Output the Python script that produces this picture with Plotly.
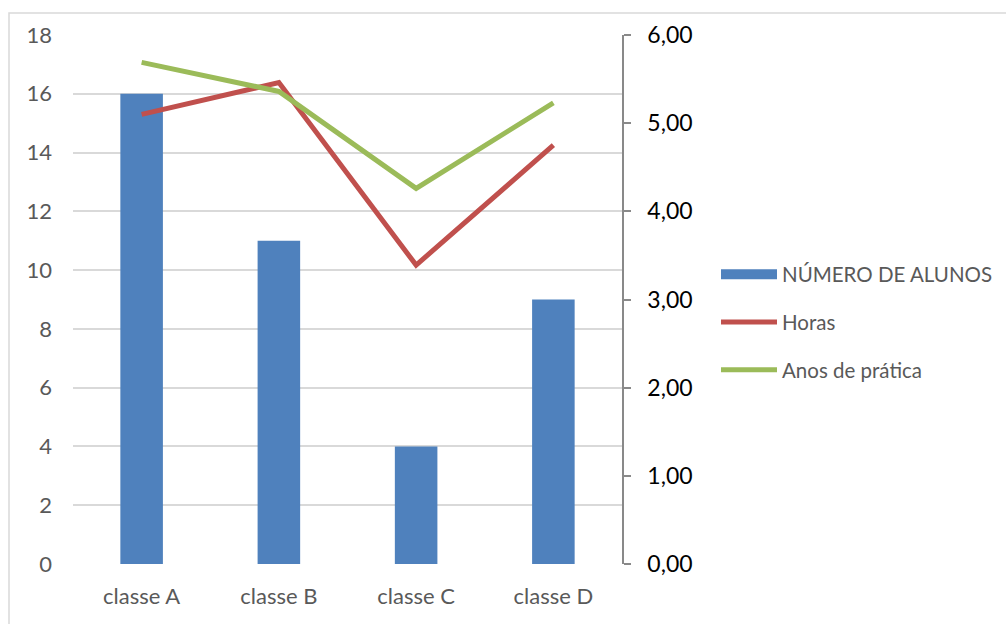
import plotly.graph_objects as go

categories = ["classe A", "classe B", "classe C", "classe D"]
alunos = [16, 11, 4, 9]
horas = [5.10, 5.46, 3.39, 4.75]
anos_pratica = [5.69, 5.36, 4.26, 5.23]

left_ticks = list(range(0, 19, 2))
right_ticks = [0, 1, 2, 3, 4, 5, 6]

FONT = "Lato"
GRAY = "#595959"
BLUE, RED, GREEN = "#4F81BD", "#C0504D", "#9BBB59"

fig = go.Figure()
fig.add_trace(go.Bar(
    x=categories, y=alunos, name="NÚMERO DE ALUNOS",
    marker=dict(color=BLUE, line=dict(width=0)),
    legendgroup="a", showlegend=False, yaxis="y"))
# legend entry for the bars, drawn as a wide rectangle like the original
fig.add_trace(go.Scatter(
    x=[None], y=[None], name="NÚMERO DE ALUNOS", mode="lines",
    line=dict(color=BLUE, width=14), legendgroup="a", yaxis="y"))
fig.add_trace(go.Scatter(
    x=categories, y=horas, name="Horas", mode="lines",
    line=dict(color=RED, width=5), legendgroup="b", yaxis="y2"))
fig.add_trace(go.Scatter(
    x=categories, y=anos_pratica, name="Anos de prática", mode="lines",
    line=dict(color=GREEN, width=5), legendgroup="c", yaxis="y2"))

L, R, T, B = 73, 384, 35, 60
W, H = 1006, 624
pw, ph = W - L - R, H - T - B

fig.update_layout(
    width=W, height=H,
    margin=dict(l=L, r=R, t=T, b=B, autoexpand=False),
    paper_bgcolor="white", plot_bgcolor="white",
    separators=",.",
    font=dict(family=FONT, size=22, color=GRAY),
    bargap=0.69,
    showlegend=True,
    legend=dict(
        x=(716 - L) / pw, y=(564 - 322) / ph, xanchor="left", yanchor="middle",
        font=dict(family=FONT, size=20.5, color=GRAY),
        traceorder="grouped", tracegroupgap=18,
        itemwidth=56, bgcolor="rgba(0,0,0,0)"),
    xaxis=dict(
        type="category", range=[-0.5, 3.5], showgrid=False, showline=False,
        ticks="", ticklabelstandoff=17,
        tickfont=dict(family=FONT, size=22, color=GRAY), zeroline=False),
    yaxis=dict(
        range=[0, 18], tickvals=left_ticks, tickformat="d",
        showgrid=True, gridcolor="#D9D9D9", gridwidth=1.5,
        showline=False, zeroline=False, ticks="", ticklabelstandoff=20,
        tickfont=dict(family=FONT, size=22, color=GRAY)),
    yaxis2=dict(
        overlaying="y", side="right", range=[0, 6], tickvals=right_ticks,
        tickformat=".2f", showgrid=False, zeroline=False,
        showline=True, linecolor="#898989", linewidth=1.5,
        ticks="outside", ticklen=7, tickcolor="#898989", tickwidth=1.5,
        ticklabelstandoff=12,
        tickfont=dict(family=FONT, size=23, color="black")),
    shapes=[dict(
        type="rect", xref="paper", yref="paper",
        x0=(9 - L) / pw, x1=(1040 - L) / pw,
        y0=(564 - 660) / ph, y1=(564 - 13) / ph,
        line=dict(color="#D9D9D9", width=1.5), fillcolor="rgba(0,0,0,0)",
        layer="below")],
)

fig.write_html("out.html")
